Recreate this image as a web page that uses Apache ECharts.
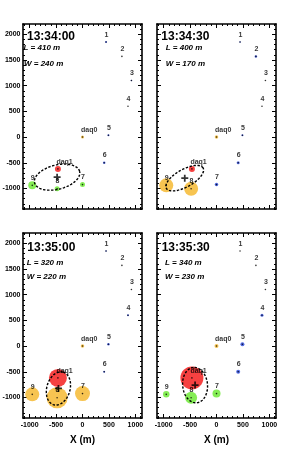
<!DOCTYPE html>
<html><head><meta charset="utf-8">
<script src="https://cdn.jsdelivr.net/npm/echarts@6/dist/echarts.min.js"></script>
<style>html,body{margin:0;padding:0;background:#fff}#c{width:292px;height:455px}</style>
</head><body><div id="c"></div><script>
// ---- data ----
const stationNames = ['1','2','3','4','5','6','7','8','9','daq0','daq1'];
const stationX = [445, 745, 925, 860, 490, 410, 0, -480, -950, 0, -465];
const stationY = [1850, 1570, 1100, 600, 35, -500, -925, -1005, -940, 0, -620];
const times = ['13:34:00', '13:34:30', '13:35:00', '13:35:30'];
const lengthL = [410, 400, 320, 340];
const widthW = [240, 170, 220, 230];
// signal per station for each frame
const signal0 = [2, 0, 1.5, 0, 2, 2.5, 5, 5, 8, 3, 6];
const signal1 = [1.5, 2.5, 0, 0, 2, 3, 3.5, 14, 14, 3.5, 6];
const signal2 = [1.5, 0, 0, 2, 2.5, 2, 15, 21, 14, 3.5, 18];
const signal3 = [0, 0, 0, 3, 4, 4, 8, 12, 6.5, 4, 23];
// state per station for each frame
const state0 = ['B','K','B','K','B','B','G','G','G','O','R'];
const state1 = ['B','B','K','K','B','B','B','O','O','O','R'];
const state2 = ['B','K','K','B','B','B','O','O','O','O','R'];
const state3 = ['K','K','K','B','B','B','G','G','G','O','R'];
// reconstructed core and ellipse
const coreX = [-480, -600, -455, -405];
const coreY = [-780, -800, -825, -760];
const ellipseA = [440, 400, 330, 345];
const ellipseB = [235, 170, 220, 235];
const ellipseAngle = [15, 30, 75, 95];
// ticks
const xTicks = [-1000, -500, 0, 500, 1000];
const xMinor = [-1100,-1000,-900,-800,-700,-600,-500,-400,-300,-200,-100,0,100,200,300,400,500,600,700,800,900,1000,1100];
const yTicks = [-1000, -500, 0, 500, 1000, 1500, 2000];
const yMinor = [-1400,-1300,-1200,-1100,-1000,-900,-800,-700,-600,-500,-400,-300,-200,-100,0,100,200,300,400,500,600,700,800,900,1000,1100,1200,1300,1400,1500,1600,1700,1800,1900,2000,2100,2200];

// ---- styles ----
const FONT = 'Liberation Sans, Arial, Helvetica, sans-serif';
const stateColor = {B: '#2443dc', O: '#f5b526', G: '#66e82c', R: '#f41212'};
const signals = [signal0, signal1, signal2, signal3];
const states = [state0, state1, state2, state3];
const grids = [
  {left: 23, top: 24, width: 119, height: 185},
  {left: 157, top: 24, width: 119, height: 185},
  {left: 23, top: 233, width: 119, height: 185},
  {left: 157, top: 233, width: 119, height: 185}
];
const XMIN = -1125, XMAX = 1125, YMIN = -1400, YMAX = 2200;
const textPos = [
  {t: [27, 37], l: [23.5, 47.7], w: [24, 63.8]},
  {t: [161.3, 37], l: [165.7, 47.7], w: [165.7, 63.8]},
  {t: [27.3, 247.3], l: [26.7, 262.5], w: [26.7, 276.7]},
  {t: [161.7, 247.3], l: [165, 262.3], w: [165, 276.7]}
];
const fmt = v => String(Math.round(v));

const xAxis = [], yAxis = [], series = [], graphic = [];
grids.forEach((g, gi) => {
  const showX = gi >= 2, showY = gi % 2 === 0;
  ['bottom', 'top'].forEach(pos => {
    xAxis.push({
      type: 'value', gridIndex: gi, position: pos, min: XMIN, max: XMAX,
      axisLine: {show: true, onZero: false, lineStyle: {color: '#000', width: 1.6}},
      axisTick: {show: true, inside: true, length: 4, customValues: xTicks, lineStyle: {color: '#000', width: 1}},
      axisLabel: {show: showX && pos === 'bottom', customValues: xTicks, formatter: fmt, fontSize: 7, fontWeight: 'bold', color: '#000', margin: 4, fontFamily: FONT},
      splitLine: {show: false},
      name: (showX && pos === 'bottom') ? 'X (m)' : '', nameLocation: 'middle', nameGap: 17,
      nameTextStyle: {fontSize: 10, fontWeight: 'bold', color: '#000', fontFamily: FONT}
    });
    xAxis.push({
      type: 'value', gridIndex: gi, position: pos, min: XMIN, max: XMAX,
      axisLine: {show: false, onZero: false},
      axisTick: {show: true, inside: true, length: 2, customValues: xMinor, lineStyle: {color: '#000', width: 1}},
      axisLabel: {show: false}, splitLine: {show: false}
    });
  });
  ['left', 'right'].forEach(pos => {
    yAxis.push({
      type: 'value', gridIndex: gi, position: pos, min: YMIN, max: YMAX,
      axisLine: {show: true, onZero: false, lineStyle: {color: '#000', width: 1.6}},
      axisTick: {show: true, inside: true, length: 4, customValues: yTicks, lineStyle: {color: '#000', width: 1}},
      axisLabel: {show: showY && pos === 'left', customValues: yTicks, formatter: fmt, fontSize: 7, fontWeight: 'bold', color: '#000', margin: 2.5, fontFamily: FONT},
      splitLine: {show: false},
      name: (showY && pos === 'left') ? 'Y (m)' : '', nameLocation: 'middle', nameGap: 14,
      nameTextStyle: {fontSize: 10, fontWeight: 'bold', color: '#000', fontFamily: FONT}
    });
    yAxis.push({
      type: 'value', gridIndex: gi, position: pos, min: YMIN, max: YMAX,
      axisLine: {show: false, onZero: false},
      axisTick: {show: true, inside: true, length: 2, customValues: yMinor, lineStyle: {color: '#000', width: 1}},
      axisLabel: {show: false}, splitLine: {show: false}
    });
  });
  const xi = gi * 4, yi = gi * 4;
  const sig = signals[gi], st = states[gi];
  const colored = [];
  stationNames.forEach((n, i) => {
    if (st[i] !== 'K' && sig[i] > 0) {
      colored.push({name: n, value: [stationX[i], stationY[i], sig[i]], itemStyle: {color: stateColor[st[i]]}});
    }
  });
  series.push({
    type: 'scatter', xAxisIndex: xi, yAxisIndex: yi, z: 2, silent: true,
    symbol: 'circle', symbolSize: v => v[2], data: colored
  });
  const cx = coreX[gi], cy = coreY[gi], a = ellipseA[gi], b = ellipseB[gi], th = ellipseAngle[gi] * Math.PI / 180;
  series.push({
    type: 'custom', xAxisIndex: xi, yAxisIndex: yi, z: 3, silent: true,
    data: [[cx, cy]], encode: {x: 0, y: 1},
    renderItem: (params, api) => {
      const pts = [];
      for (let k = 0; k <= 90; k++) {
        const t = k / 90 * 2 * Math.PI;
        const dx = a * Math.cos(t), dy = b * Math.sin(t);
        pts.push(api.coord([cx + dx * Math.cos(th) - dy * Math.sin(th), cy + dx * Math.sin(th) + dy * Math.cos(th)]));
      }
      return {type: 'polyline', shape: {points: pts}, style: {fill: null, stroke: '#000', lineWidth: 1.4, lineDash: [2.4, 1.6]}};
    }
  });
  series.push({
    type: 'scatter', xAxisIndex: xi, yAxisIndex: yi, z: 4, silent: true,
    symbol: 'circle', symbolSize: 1.6, itemStyle: {color: '#000'},
    data: stationNames.map((n, i) => ({name: n, value: [stationX[i], stationY[i]]})),
    label: {show: true, formatter: '{b}', position: 'top', distance: 3, align: 'left', offset: [-1.5, 0],
      fontSize: 7, fontWeight: 'bold', color: '#000', fontFamily: FONT}
  });
  series.push({
    type: 'scatter', xAxisIndex: xi, yAxisIndex: yi, z: 5, silent: true,
    symbol: 'path://M3,0H5V3H8V5H5V8H3V5H0V3H3Z', symbolSize: 7, itemStyle: {color: '#000'},
    data: [[cx, cy]]
  });
  const tp = textPos[gi];
  graphic.push({type: 'text', x: tp.t[0], y: tp.t[1], z: 10,
    style: {text: times[gi], font: 'bold 12px ' + FONT, fill: '#000', verticalAlign: 'middle'}});
  graphic.push({type: 'text', x: tp.l[0], y: tp.l[1], z: 10,
    style: {text: 'L = ' + lengthL[gi] + ' m', font: 'italic bold 8px ' + FONT, fill: '#000', verticalAlign: 'middle'}});
  graphic.push({type: 'text', x: tp.w[0], y: tp.w[1], z: 10,
    style: {text: 'W = ' + widthW[gi] + ' m', font: 'italic bold 8px ' + FONT, fill: '#000', verticalAlign: 'middle'}});
});

const chart = echarts.init(document.getElementById('c'), null, {renderer: 'canvas'});
chart.setOption({
  animation: false,
  backgroundColor: '#fff',
  grid: grids.map(g => Object.assign({containLabel: false, outerBoundsMode: 'none'}, g)),
  xAxis, yAxis, series, graphic
});
</script></body></html>
